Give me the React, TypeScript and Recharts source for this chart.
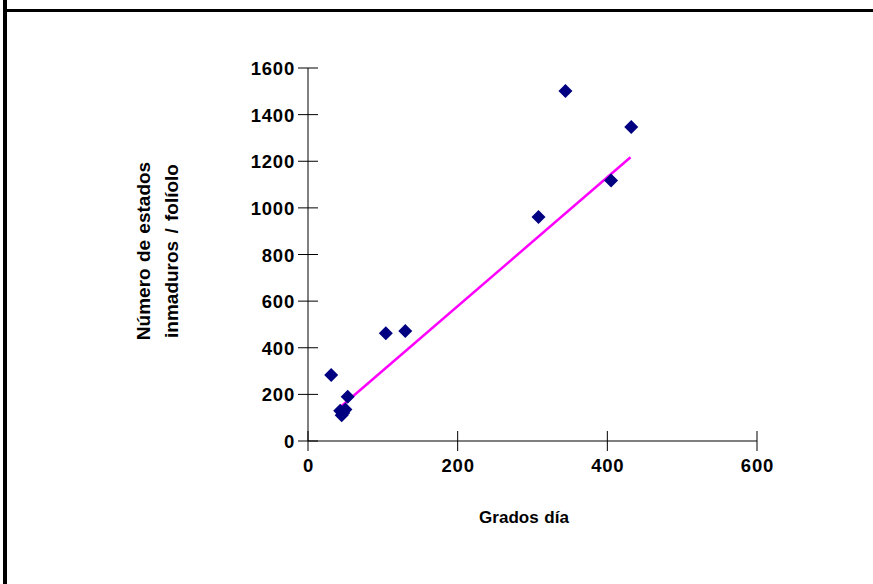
import React from "react";
import { ScatterChart, Scatter, XAxis, YAxis, Label } from "recharts";

// grados día vs número de estados inmaduros por folíolo
const grados = [31, 43, 45, 47, 50, 53, 104, 130, 308, 344, 405, 432];
const estados = [283, 130, 110, 120, 135, 190, 462, 472, 961, 1501, 1117, 1347];

// línea de tendencia (extremos)
const trendGrados = [45, 431];
const trendEstados = [150, 1217];

const xTicks = [0, 200, 400, 600];
const yTicks = [0, 200, 400, 600, 800, 1000, 1200, 1400, 1600];

const puntos = grados.map((g, i) => ({ x: g, y: estados[i] }));
const tendencia = trendGrados.map((g, i) => ({ x: g, y: trendEstados[i] }));

const tickFont = { fontFamily: "Liberation Sans", fontSize: 18.5, fontWeight: "bold", letterSpacing: 0.8, fill: "#000" };
const titleFont = { fontFamily: "Liberation Sans", fontSize: 19, fontWeight: "bold", fill: "#000" };

const Diamond = (props: any) => {
  const { cx, cy } = props;
  const r = 7;
  return (
    <polygon
      points={`${cx},${cy - r} ${cx + r},${cy} ${cx},${cy + r} ${cx - r},${cy}`}
      fill="#000080"
    />
  );
};

const NoShape = () => <g />;

const XTick = ({ x, y, payload }: any) => (
  <g>
    <line x1={x} x2={x} y1={y - 10} y2={y + 10} stroke="#000" strokeWidth={1} />
    <text x={x + 0.5} y={y + 31} textAnchor="middle" {...tickFont}>
      {payload.value}
    </text>
  </g>
);

const YTick = ({ x, y, payload }: any) => (
  <g>
    <line x1={x - 10} x2={x + 10} y1={y} y2={y} stroke="#000" strokeWidth={1} />
    <text x={x - 13} y={y + 7} textAnchor="end" {...tickFont}>
      {payload.value}
    </text>
  </g>
);

const XTitle = () => (
  <text x={524} y={523} textAnchor="middle" {...titleFont} fontSize={17} wordSpacing={1}>
    Grados día
  </text>
);

const YTitle = () => (
  <g>
    <text x={0} y={0} transform="translate(150,251) rotate(-90)" textAnchor="middle" {...titleFont} wordSpacing={1}>
      Número de estados
    </text>
    <text x={0} y={0} transform="translate(178,251) rotate(-90)" textAnchor="middle" {...titleFont} wordSpacing={2}>
      inmaduros / folíolo
    </text>
  </g>
);

export default function App() {
  return (
    <div style={{ position: "absolute", left: 0, top: 0, width: 873, height: 584, background: "#fff" }}>
      <div style={{ position: "absolute", left: 3, top: 0, width: 4, height: 584, background: "#000" }} />
      <div style={{ position: "absolute", left: 3, top: 9, width: 870, height: 3, background: "#000" }} />
      <ScatterChart width={873} height={584} margin={{ top: 68, right: 116, bottom: 113, left: 248 }}>
        <XAxis
          type="number"
          dataKey="x"
          domain={[0, 600]}
          ticks={xTicks}
          height={30}
          tickSize={0}
          tickMargin={0}
          tickLine={false}
          axisLine={{ stroke: "#000", strokeWidth: 1 }}
          tick={<XTick />}
        >
          <Label content={<XTitle />} />
        </XAxis>
        <YAxis
          type="number"
          dataKey="y"
          domain={[0, 1600]}
          ticks={yTicks}
          width={60}
          tickSize={0}
          tickMargin={0}
          tickLine={false}
          axisLine={{ stroke: "#000", strokeWidth: 1 }}
          tick={<YTick />}
        >
          <Label content={<YTitle />} />
        </YAxis>
        <Scatter
          data={tendencia}
          line={{ stroke: "#FF00FF", strokeWidth: 2.5 }}
          shape={<NoShape />}
          isAnimationActive={false}
        />
        <Scatter data={puntos} shape={<Diamond />} isAnimationActive={false} />
      </ScatterChart>
    </div>
  );
}
